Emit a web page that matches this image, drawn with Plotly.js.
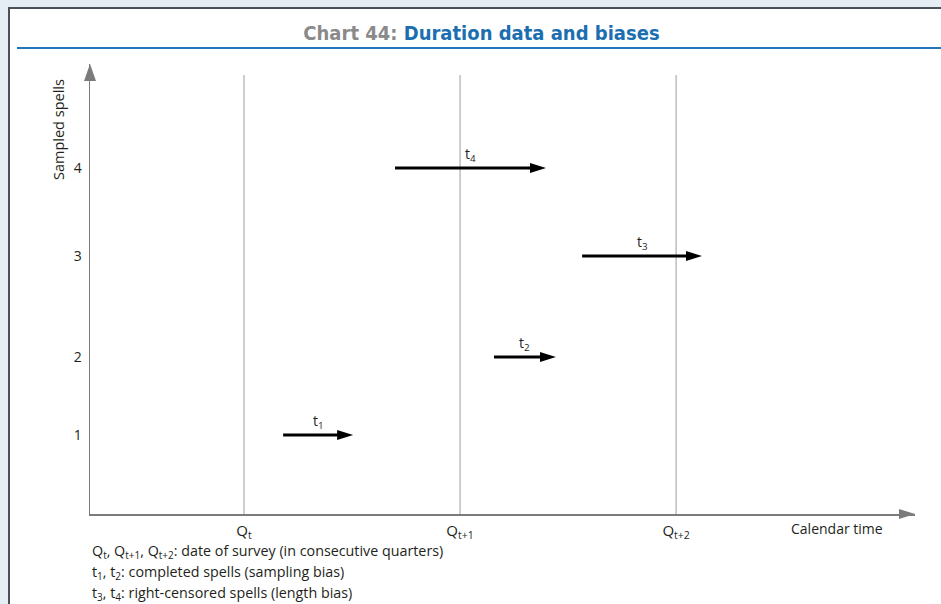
<!DOCTYPE html>
<html>
<head>
<meta charset="utf-8">
<script src="https://cdn.plot.ly/plotly-3.0.1.min.js"></script>
<style>
  html, body { margin:0; padding:0; width:941px; height:604px; overflow:hidden; background:#e5eef5; }
  #panel { position:absolute; left:8px; top:7px; width:933px; height:597px; background:#ffffff;
           border-left:2px solid #4a5057; border-top:2px solid #4a5057; box-sizing:border-box; }
  #rule { position:absolute; left:17px; top:47px; width:924px; height:2px; background:#1f74ba; }
  #chart { position:absolute; left:0; top:0; width:941px; height:604px; }
</style>
</head>
<body>
<div id="panel"></div>
<div id="rule"></div>
<div id="chart"></div>
<script>
// ---- data ----
const quarterPos    = [1, 2, 3];
const quarterLabels = ['Q<sub>t</sub>', 'Q<sub>t+1</sub>', 'Q<sub>t+2</sub>'];
const spellNames    = ['t<sub>1</sub>', 't<sub>2</sub>', 't<sub>3</sub>', 't<sub>4</sub>'];
const spellLevel    = [0.79, 1.57, 2.58, 3.46];   // vertical position of each sampled spell
const spellTicks    = ['1', '2', '3', '4'];
const spellStart    = [1.181, 2.157, 2.565, 1.699]; // in quarters
const spellEnd      = [1.505, 2.444, 3.120, 2.398];
const surveyLineTop = 4.39;

const notes = [
  'Q<sub>t</sub>, Q<sub>t+1</sub>, Q<sub>t+2</sub>: date of survey (in consecutive quarters)',
  't<sub>1</sub>, t<sub>2</sub>: completed spells (sampling bias)',
  't<sub>3</sub>, t<sub>4</sub>: right-censored spells (length bias)'
];

// ---- layout geometry ----
const W = 941, H = 604;
const margin = { l: 90, r: 26, t: 64, b: 90 };
const xr = [0.287, 4.106];
const yr = [0, 4.5];
const plotW = W - margin.l - margin.r;
const plotH = H - margin.t - margin.b;
const pxX = plotW / (xr[1] - xr[0]);

const FONT = 'Open Sans, Noto Sans, sans-serif';
const TXT = '#231f20';
const AX = '#7b7b7b';

const traces = spellStart.map((s, i) => ({
  type: 'scatter', mode: 'lines',
  x: [s, spellEnd[i] - 12 / pxX],
  y: [spellLevel[i], spellLevel[i]],
  line: { color: '#000000', width: 3 },
  hoverinfo: 'skip', showlegend: false
}));

const shapes = [];
quarterPos.forEach(q => shapes.push({
  type: 'line', xref: 'x', yref: 'y', x0: q, x1: q, y0: 0, y1: surveyLineTop,
  line: { color: '#9c9c9c', width: 1 }, layer: 'below'
}));
spellEnd.forEach((e, i) => shapes.push({
  type: 'path', xref: 'x', yref: 'y', xsizemode: 'pixel', ysizemode: 'pixel',
  xanchor: e, yanchor: spellLevel[i], path: 'M-16,-5L0,0L-16,5Z',
  fillcolor: '#000000', line: { width: 0 }
}));
// axis arrow heads
shapes.push({ type: 'path', xref: 'paper', yref: 'paper', xsizemode: 'pixel', ysizemode: 'pixel',
  xanchor: 1, yanchor: 0, path: 'M-16,-5L0,0L-16,5Z', fillcolor: AX, line: { width: 0 } });
shapes.push({ type: 'path', xref: 'paper', yref: 'paper', xsizemode: 'pixel', ysizemode: 'pixel',
  xanchor: 0, yanchor: 1, path: 'M-6,-17L0,0L6,-17Z', fillcolor: AX, line: { width: 0 } });

const annotations = [];
spellNames.forEach((n, i) => annotations.push({
  xref: 'x', yref: 'y', x: (spellStart[i] + spellEnd[i]) / 2, y: spellLevel[i],
  text: n, showarrow: false, yshift: 14, font: { family: FONT, size: 14, color: TXT }
}));
annotations.push({
  xref: 'x', yref: 'paper', x: 3.745, y: -14 / plotH, text: 'Calendar time', showarrow: false,
  xanchor: 'center', yanchor: 'middle', font: { family: FONT, size: 14, color: TXT }
});
annotations.push({
  xref: 'paper', yref: 'paper', x: -31 / plotW, y: (514 - 130) / plotH, text: 'Sampled spells',
  textangle: -90, showarrow: false, xanchor: 'center', yanchor: 'middle',
  font: { family: FONT, size: 14.5, color: TXT }
});
notes.forEach((t, i) => annotations.push({
  xref: 'paper', yref: 'paper', x: 0, y: -(37 + 21 * i) / plotH, text: t, showarrow: false,
  xanchor: 'left', yanchor: 'middle', align: 'left', font: { family: FONT, size: 14.3, color: TXT }
}));

const layout = {
  width: W, height: H, margin: margin,
  paper_bgcolor: 'rgba(0,0,0,0)', plot_bgcolor: 'rgba(0,0,0,0)',
  showlegend: false,
  title: {
    text: '<span style="color:#8a8a8a">Chart 44: </span><span style="color:#1b6fb0">Duration data and biases</span>',
    font: { family: 'Liberation Sans Narrow, DejaVu Sans Condensed, sans-serif', size: 20, weight: 'bold' },
    xref: 'container', yref: 'container', x: 481.5 / W, y: 1 - 33 / H, xanchor: 'center', yanchor: 'middle'
  },
  xaxis: {
    range: xr, showgrid: false, zeroline: false, showline: true, linecolor: AX, linewidth: 1.5,
    tickvals: quarterPos, ticktext: quarterLabels, ticks: '', ticklabelstandoff: 2,
    tickfont: { family: FONT, size: 15, color: TXT }, fixedrange: true
  },
  yaxis: {
    range: yr, showgrid: false, zeroline: false, showline: true, linecolor: AX, linewidth: 1.5,
    tickvals: spellLevel, ticktext: spellTicks, ticks: '', ticklabelstandoff: 4,
    tickfont: { family: FONT, size: 14, color: TXT }, fixedrange: true
  },
  shapes: shapes,
  annotations: annotations
};

Plotly.newPlot('chart', traces, layout, { displayModeBar: false, staticPlot: true });
</script>
</body>
</html>
